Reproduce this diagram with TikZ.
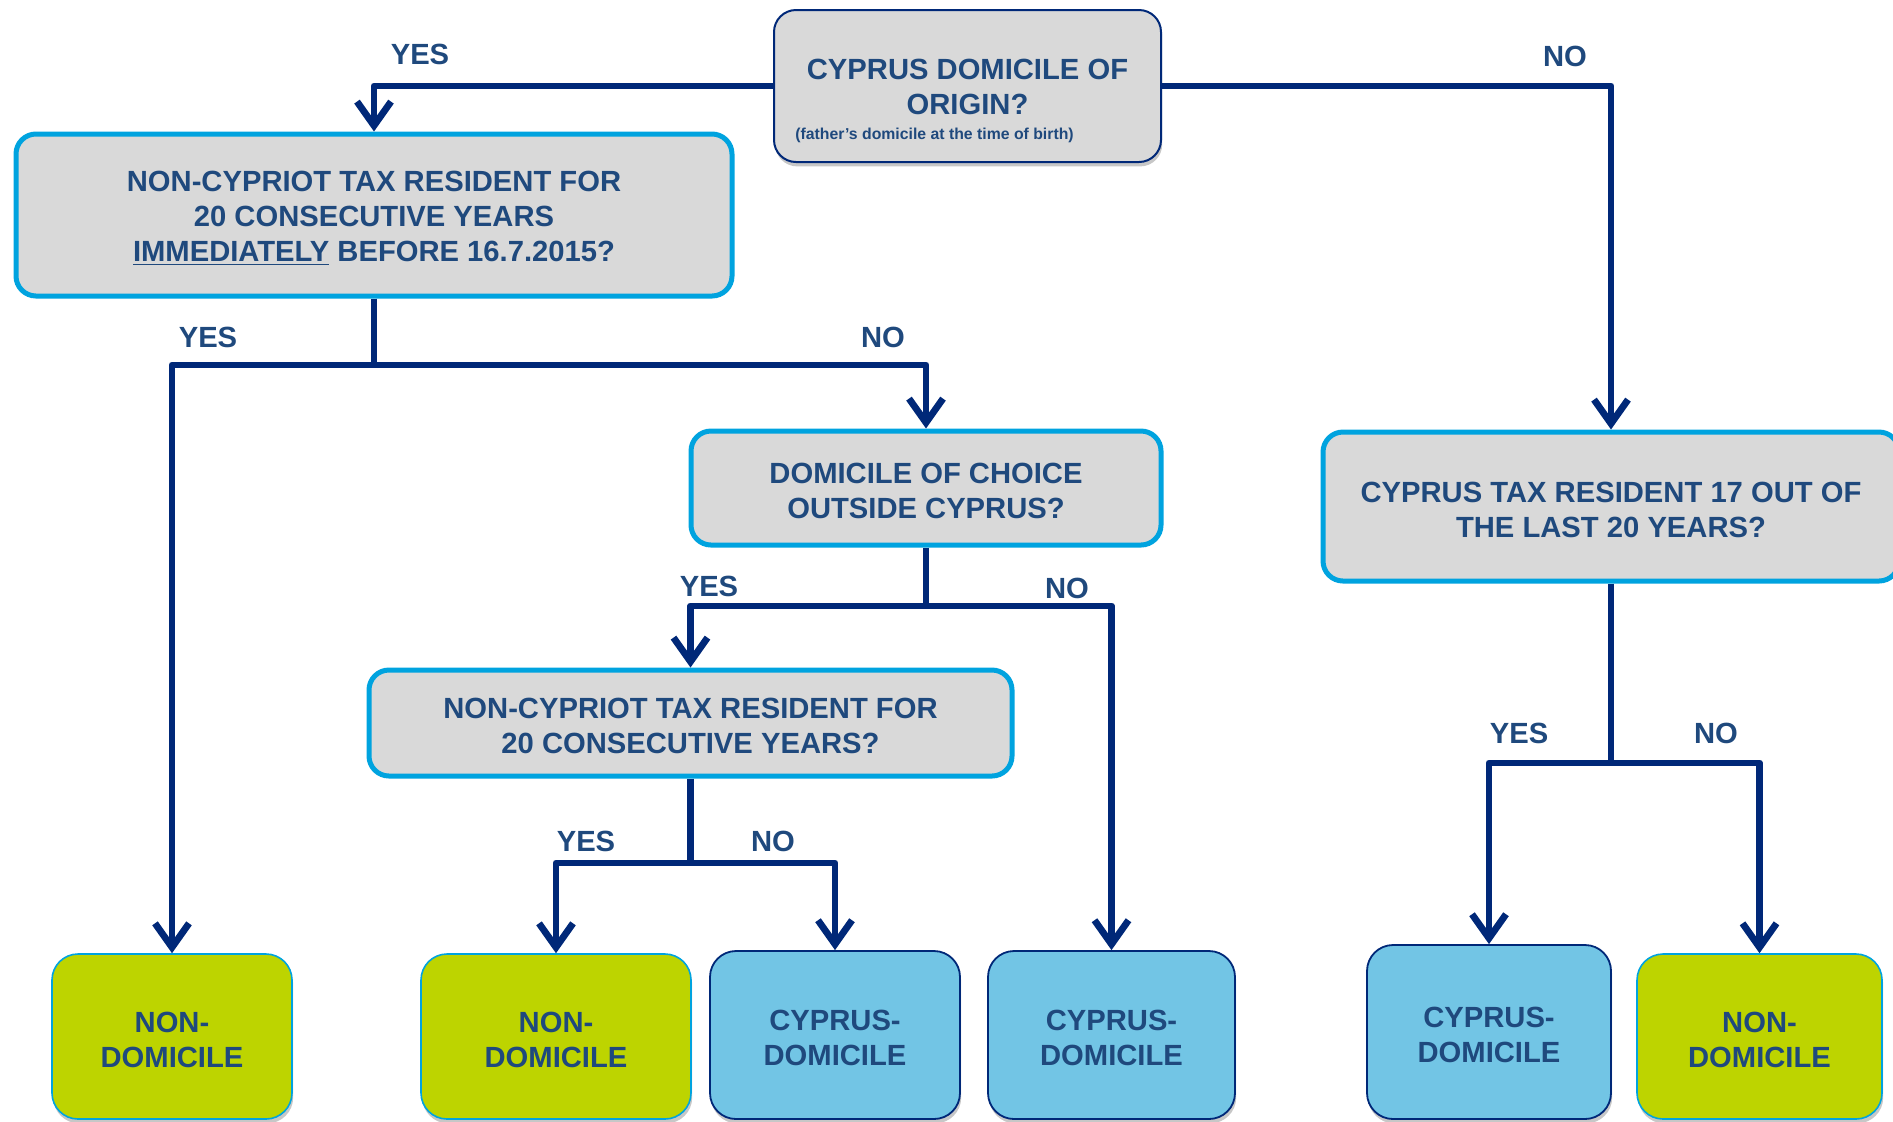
\documentclass[tikz,border=0pt]{standalone}
\usepackage{fontspec}
\setmainfont{Liberation Sans}
\usetikzlibrary{arrows.meta,shadows}
\definecolor{txt}{HTML}{1F497D}
\definecolor{navy}{HTML}{002878}
\definecolor{greyfill}{HTML}{D9D9D9}
\definecolor{lblue}{HTML}{00A3DF}
\definecolor{bluefill}{HTML}{72C5E5}
\definecolor{greenfill}{HTML}{BDD400}
\newcommand{\tstrut}{\rule{0pt}{13.5pt}}
\begin{document}
\begin{tikzpicture}[x=0.5pt,y=-0.5pt,
  every node/.style={font=\bfseries\fontsize{14.6}{17.5}\selectfont, text=txt, inner sep=0pt},
  shadowed/.style={drop shadow={shadow xshift=0.6pt, shadow yshift=-2.2pt, fill=black, opacity=0.22}},
  qbox/.style={draw=lblue, line width=2.5pt, fill=greyfill, rounded corners=10pt, align=center},
  topbox/.style={draw=navy, line width=1pt, fill=greyfill, rounded corners=11pt, shadowed},
  greenbox/.style={draw=lblue, line width=0.8pt, fill=greenfill, rounded corners=13pt, align=center, shadowed},
  bluebox/.style={draw=navy, line width=0.9pt, fill=bluefill, rounded corners=13pt, align=center, shadowed},
  conn/.style={draw=navy, line width=3.4pt, line join=round},
  arr/.style={conn, -{Straight Barb[length=12pt,width=17pt]}},
  lbl/.style={anchor=center}]
\useasboundingbox (0,0) rectangle (1893,1121);

% question boxes
\node[topbox, minimum width=193.5pt, minimum height=76pt] (top) at (967.5,86) {};
\node (toptext) at (967.5,86.5) [align=center] {CYPRUS DOMICILE OF\\ORIGIN?};
\node (topsmall) at (795,139) [anchor=base west, font=\bfseries\fontsize{7.9}{9}\selectfont] {(father’s domicile at the time of birth)};

\node[qbox, minimum width=358pt, minimum height=81pt] (q1) at (374,215)
  {\tstrut NON-CYPRIOT TAX RESIDENT FOR\\20 CONSECUTIVE YEARS\\\underline{IMMEDIATELY} BEFORE 16.7.2015?};
\node[qbox, minimum width=235pt, minimum height=57pt] (q2) at (926,488)
  {\tstrut DOMICILE OF CHOICE\\OUTSIDE CYPRUS?};
\node[qbox, minimum width=321.5pt, minimum height=53pt] (q3) at (690.5,723)
  {\tstrut NON-CYPRIOT TAX RESIDENT FOR\\20 CONSECUTIVE YEARS?};
\node[qbox, minimum width=288pt, minimum height=74.5pt] (q4) at (1611,506.5)
  {\tstrut CYPRUS TAX RESIDENT 17 OUT OF\\THE LAST 20 YEARS?};

% result boxes
\node[greenbox, minimum width=120pt, minimum height=82.5pt] (r1) at (172,1036.5) {\tstrut NON-\\DOMICILE};
\node[greenbox, minimum width=135pt, minimum height=82.5pt] (r2) at (556,1036.5) {\tstrut NON-\\DOMICILE};
\node[bluebox, minimum width=125pt, minimum height=84pt] (r3) at (835,1035) {\tstrut CYPRUS-\\DOMICILE};
\node[bluebox, minimum width=123.5pt, minimum height=84pt] (r4) at (1111.5,1035) {\tstrut CYPRUS-\\DOMICILE};
\node[bluebox, minimum width=122pt, minimum height=87pt] (r5) at (1489,1032) {\tstrut CYPRUS-\\DOMICILE};
\node[greenbox, minimum width=122.5pt, minimum height=82.5pt] (r6) at (1759.5,1036.5) {\tstrut NON-\\DOMICILE};

% junctions
\coordinate (j1) at (374,365);
\coordinate (j2) at (926,606);
\coordinate (j3) at (690.5,863);
\coordinate (j4) at (1611,763);

% connectors
\draw[arr] (top.west) -| (q1.north);
\draw[arr] (top.east) -| (q4.north);
\draw[conn] (q1.south) -- (j1);
\draw[arr] (j1) -| (r1.north);
\draw[arr] (j1) -| (q2.north);
\draw[conn] (q2.south) -- (j2);
\draw[arr] (j2) -| (q3.north);
\draw[arr] (j2) -| (r4.north);
\draw[conn] (q3.south) -- (j3);
\draw[arr] (j3) -| (r2.north);
\draw[arr] (j3) -| (r3.north);
\draw[conn] (q4.south) -- (j4);
\draw[arr] (j4) -| (r5.north);
\draw[arr] (j4) -| (r6.north);

% labels
\node[lbl] (l1) at (420,54) {YES};
\node[lbl] (l2) at (1565,56) {NO};
\node[lbl] (l3) at (208,337) {YES};
\node[lbl] (l4) at (883,337) {NO};
\node[lbl] (l5) at (709,586) {YES};
\node[lbl] (l6) at (1067,588) {NO};
\node[lbl] (l7) at (586,841) {YES};
\node[lbl] (l8) at (773,841) {NO};
\node[lbl] (l9) at (1519,733) {YES};
\node[lbl] (l10) at (1716,733) {NO};
\end{tikzpicture}
\end{document}
